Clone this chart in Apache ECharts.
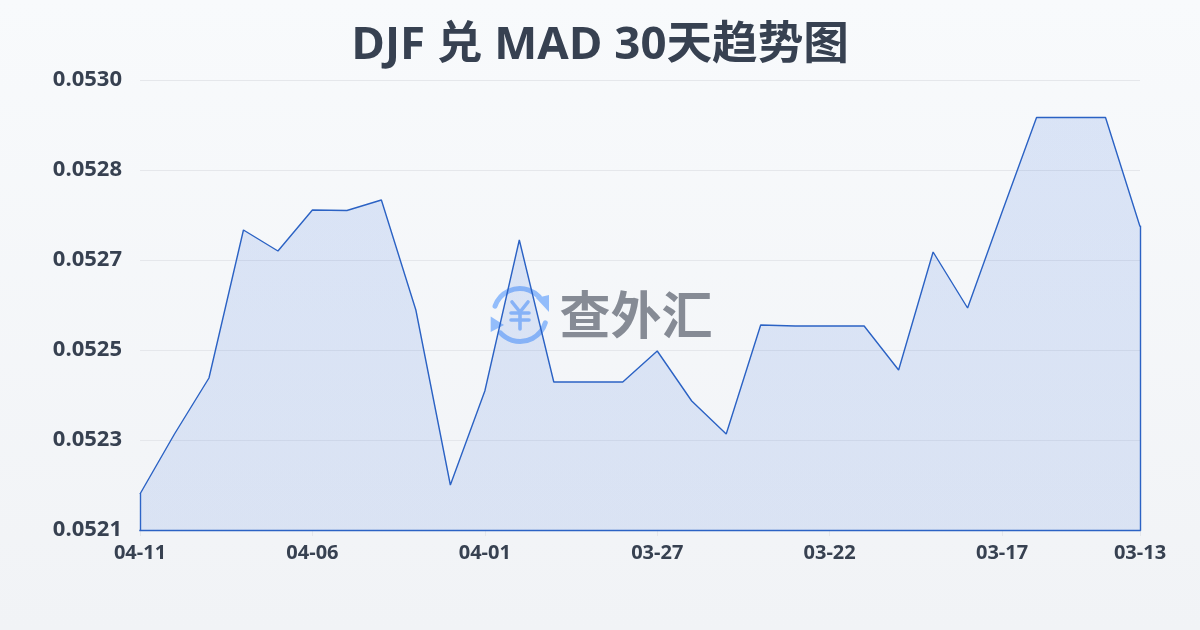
<!DOCTYPE html>
<html><head><meta charset="utf-8">
<style>html,body{margin:0;padding:0;width:1200px;height:630px;overflow:hidden}#c{width:1200px;height:630px}</style>
<script src="https://cdn.jsdelivr.net/npm/echarts@6/dist/echarts.min.js"></script></head>
<body><div id="c"></div>
<script>
const titleText = 'DJF 兑 MAD 30天趋势图';
const dates = ['04-11','04-10','04-09','04-08','04-07','04-06','04-05','04-04','04-03','04-02','04-01','03-31','03-30','03-29','03-28','03-27','03-26','03-25','03-24','03-23','03-22','03-21','03-20','03-19','03-18','03-17','03-16','03-15','03-14','03-13'];
const rates = [0.052192,0.052312,0.052424,0.05272,0.052678,0.05276,0.052759,0.05278,0.05256,0.05221,0.052398,0.0527,0.052416,0.052416,0.052416,0.052478,0.052378,0.052312,0.05253,0.052528,0.052528,0.052528,0.05244,0.052676,0.052564,0.052756,0.052945,0.052945,0.052945,0.052727];
const yTicks = [0.05212,0.0523,0.05248,0.05266,0.05284,0.05302];
const chart = echarts.init(document.getElementById('c'), null, {renderer:'canvas'});
const textColor = '#374151';
const fontMix = '"Open Sans","Noto Sans CJK SC",sans-serif';
const blue = '#93bdfb';
chart.setOption({
  animation:false,
  backgroundColor:new echarts.graphic.LinearGradient(0,0,0,1,[{offset:0,color:'#f8fafc'},{offset:1,color:'#f1f3f6'}]),
  title:{text:titleText,left:'center',top:18,textStyle:{fontFamily:fontMix,fontWeight:'bold',fontSize:45.6,color:textColor}},
  grid:{left:140,right:60,top:80,bottom:100},
  xAxis:{type:'category',boundaryGap:false,data:dates,
    axisLine:{show:false},
    axisTick:{show:true,length:6,lineStyle:{color:'#e5e7eb'},interval:(i)=>i%5===0||i===29},
    axisLabel:{interval:(i)=>i%5===0||i===29,color:textColor,fontSize:20,fontWeight:'bold',margin:13,fontFamily:fontMix,showMaxLabel:true,hideOverlap:false},
    splitLine:{show:false}},
  yAxis:{type:'value',min:yTicks[0],max:yTicks[5],
    axisLine:{show:false},
    axisTick:{show:false,customValues:yTicks},
    axisLabel:{customValues:yTicks,formatter:(v)=>v.toFixed(4),color:textColor,fontSize:22,fontWeight:'bold',margin:18,fontFamily:fontMix},
    splitLine:{show:true,lineStyle:{color:'#e5e7eb',width:1}}},
  series:[{type:'line',data:rates,symbol:'none',smooth:false,z:5,
    lineStyle:{color:'#2b62c4',width:1.4},
    areaStyle:{color:new echarts.graphic.LinearGradient(0,0,0,1,[{offset:0,color:'rgba(59,113,220,0.22)'},{offset:1,color:'rgba(59,113,220,0.19)'}])},
    markLine:{silent:true,symbol:'none',label:{show:false},animation:false,lineStyle:{color:'#2b62c4',width:1.4,type:'solid',cap:'square'},
      data:[[{xAxis:0,yAxis:yTicks[0]},{xAxis:29,yAxis:yTicks[0]}],[{xAxis:0,yAxis:yTicks[0]},{xAxis:0,yAxis:rates[0]}],[{xAxis:29,yAxis:yTicks[0]},{xAxis:29,yAxis:rates[29]}]]}
  }],
  graphic:[
    {type:'group',z:-1,silent:true,children:[
      {type:'arc',shape:{cx:520,cy:315,r:26.5,startAngle:-2.8,endAngle:-0.75},style:{stroke:blue,lineWidth:5,fill:null,lineCap:'round'}},
      {type:'arc',shape:{cx:520,cy:315,r:26.5,startAngle:0.3,endAngle:2.4},style:{stroke:blue,lineWidth:5,fill:null,lineCap:'round'}},
      {type:'polygon',shape:{points:[[536,298],[549,295],[549,312]]},style:{fill:blue}},
      {type:'polygon',shape:{points:[[490.7,316.5],[504,325],[490.7,332]]},style:{fill:blue}},
      {type:'polyline',shape:{points:[[512,302],[520,312],[528,302]]},style:{stroke:blue,lineWidth:3.6,fill:null,lineCap:'round',lineJoin:'round'}},
      {type:'line',shape:{x1:511,y1:313,x2:529,y2:313},style:{stroke:blue,lineWidth:3.6,lineCap:'round'}},
      {type:'line',shape:{x1:511,y1:320,x2:529,y2:320},style:{stroke:blue,lineWidth:3.6,lineCap:'round'}},
      {type:'line',shape:{x1:520,y1:312,x2:520,y2:329},style:{stroke:blue,lineWidth:3.6,lineCap:'round'}},
      {type:'text',style:{text:'查外汇',x:636,y:315,align:'center',verticalAlign:'middle',fill:'#868b95',font:'bold 51px "Noto Sans CJK SC",sans-serif'}}
    ]}
  ]
});
</script></body></html>
